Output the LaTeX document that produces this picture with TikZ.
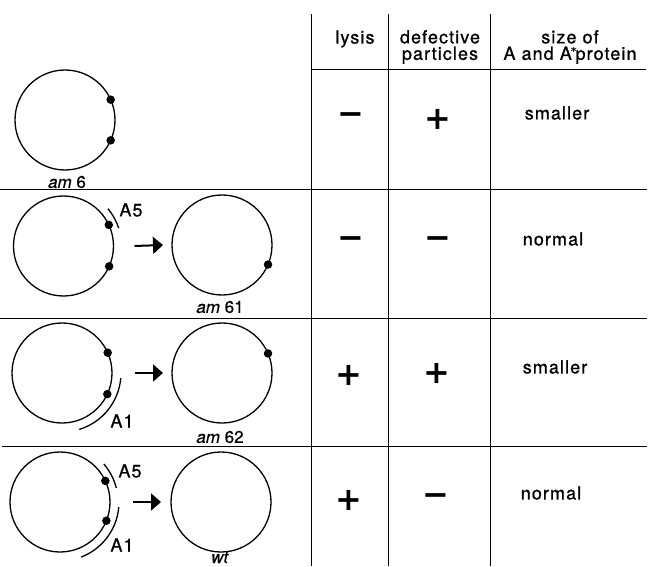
\documentclass[tikz,border=0pt]{standalone}
\usepackage{fontspec}
\setmainfont{TeX Gyre Heros}[FakeBold=0.5]
\newfontfamily\signfont{DejaVu Sans Bold}
\newfontfamily\hdrfont[LetterSpace=6,FakeBold=0.8]{TeX Gyre Heros}
\usetikzlibrary{arrows.meta}
\newcommand{\starmark}{\raisebox{4pt}{\signfont\fontsize{11}{11}\selectfont *}}
\begin{document}
\begin{tikzpicture}[x=1pt,y=1pt,
  phage/.style={circle, draw, line width=1.3pt, minimum size=100pt, inner sep=0pt, outer sep=0pt},
  mut/.style={circle, fill, inner sep=0pt, minimum size=8.5pt},
  arr/.style={line width=2pt, -{Triangle[length=10pt,width=17pt]}},
  gene/.style={line width=1.3pt},
  tabrule/.style={line width=1pt},
  hdr/.style={font=\fontsize{18}{16.5}\hdrfont, align=center, inner sep=0pt},
  val/.style={font=\fontsize{32}{32}\signfont, inner sep=0pt},
  lbl/.style={font=\fontsize{18}{18}\hdrfont, inner sep=0pt},
  strain/.style={font=\fontsize{17}{17}\selectfont, inner sep=0pt}]
\useasboundingbox (0,0) rectangle (650,566);
% table rules
\coordinate (v1t) at (311,552); \coordinate (v1b) at (311,0);
\coordinate (v2t) at (388,552); \coordinate (v2b) at (388,0);
\coordinate (v3t) at (490,552); \coordinate (v3b) at (490,0);
\draw[tabrule] (v1t) -- (v1b);
\draw[tabrule] (v2t) -- (v2b);
\draw[tabrule] (v3t) -- (v3b);
\coordinate (h0l) at (311,496); \coordinate (h0r) at (646,496);
\coordinate (h1l) at (0,377); \coordinate (h1r) at (647,377);
\coordinate (h2l) at (0,248); \coordinate (h2r) at (647,248);
\coordinate (h3l) at (2,120); \coordinate (h3r) at (647,120);
\draw[tabrule] (h0l) -- (h0r);
\draw[tabrule] (h1l) -- (h1r);
\draw[tabrule] (h2l) -- (h2r);
\draw[tabrule] (h3l) -- (h3r);
% headers
\node[hdr] (hlys) at (355,527) {lysis};
\node[hdr] (hdef) at (440,519) {defective\\particles};
\node[hdr] (hsize) at (570,519) {size of\\A and A\kern-1pt\starmark\kern-1pt protein};
% row 1
\node[phage] (c1) at (65,446) {};
\node[mut] (m1a) at (c1.24) {};
\node[mut] (m1b) at (c1.-24) {};
\node[strain] (n1) at (67,384) {\textit{am} 6};
\node[val] (r1l) at (351,447) {−};
\node[val] (r1d) at (438,447) {+};
\node[lbl] (r1s) at (557,453) {smaller};
% row 2
\node[phage] (c2a) at (63.5,320) {};
\node[mut] (m2a) at (c2a.25) {};
\node[mut] (m2b) at (c2a.-24) {};
\draw[gene] ([shift={(18:58)}]c2a.center) arc[start angle=18, end angle=40, radius=58];
\node[lbl] (a52) at (131,356) {A5};
\node[phage] (c2b) at (222,321) {};
\node[mut] (m2c) at (c2b.-23) {};
\draw[arr] ([xshift=21pt]c2a.east) -- ([xshift=-9pt]c2b.west);
\node[strain] (n2) at (220,259) {\textit{am} 61};
\node[val] (r2l) at (351,323) {−};
\node[val] (r2d) at (438,323) {−};
\node[lbl] (r2s) at (553,327) {normal};
% row 3
\node[phage] (c3a) at (62,193) {};
\node[mut] (m3a) at (c3a.24) {};
\node[mut] (m3b) at (c3a.-25) {};
\draw[gene] ([shift={(-73:59)}]c3a.center) arc[start angle=-73, end angle=-5, radius=59];
\node[lbl] (a13) at (122,145) {A1};
\node[phage] (c3b) at (222,193) {};
\node[mut] (m3c) at (c3b.23) {};
\draw[arr] ([xshift=23pt]c3a.east) -- ([xshift=-9pt]c3b.west);
\node[strain] (n3) at (220,129) {\textit{am} 62};
\node[val] (r3l) at (349,191) {+};
\node[val] (r3d) at (437,193) {+};
\node[lbl] (r3s) at (555,199) {smaller};
% row 4
\node[phage] (c4a) at (60,64) {};
\node[mut] (m4a) at (c4a.25) {};
\node[mut] (m4b) at (c4a.-22) {};
\draw[gene] ([shift={(14:58)}]c4a.center) arc[start angle=14, end angle=41, radius=58];
\draw[gene] ([shift={(-69:59)}]c4a.center) arc[start angle=-69, end angle=-5, radius=59];
\node[lbl] (a54) at (130,95) {A5};
\node[lbl] (a14) at (122,21) {A1};
\node[phage] (c4b) at (221,64) {};
\draw[arr] ([xshift=23pt]c4a.east) -- ([xshift=-10pt]c4b.west);
\node[strain,anchor=base] (n4) at (220,3) {\textit{wt}};
\node[val] (r4l) at (349,66) {+};
\node[val] (r4d) at (436,66) {−};
\node[lbl] (r4s) at (551,73) {normal};
\end{tikzpicture}
\end{document}
